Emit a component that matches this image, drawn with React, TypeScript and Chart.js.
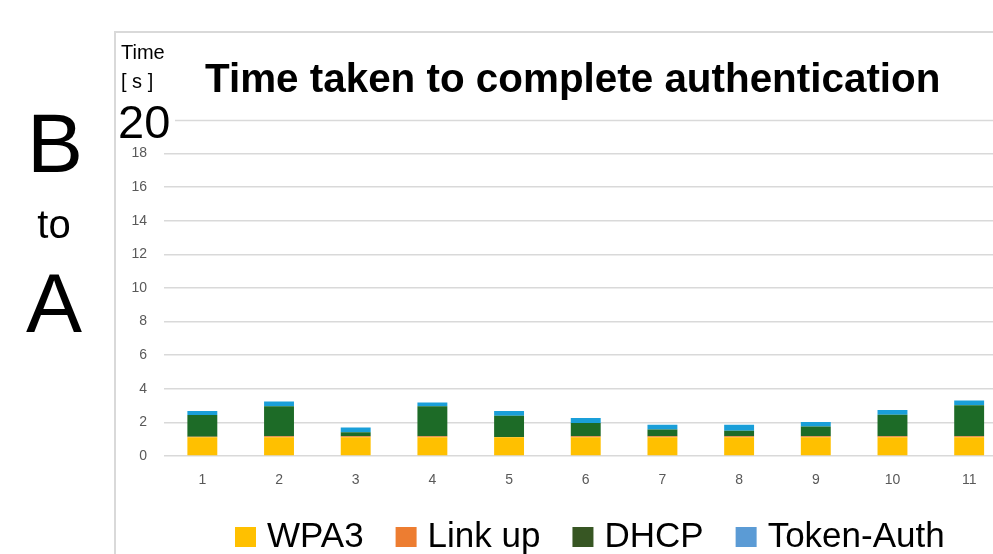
import React, { useEffect, useRef } from "react";
import { Chart, registerables } from "chart.js";

Chart.register(...registerables);

const categories = ["1", "2", "3", "4", "5", "6", "7", "8", "9", "10", "11"];
const wpa3 = [1.12, 1.12, 1.12, 1.12, 1.11, 1.12, 1.12, 1.12, 1.12, 1.12, 1.12];
const linkUp = [0.02, 0.05, 0.05, 0.05, 0.02, 0.05, 0.05, 0.05, 0.05, 0.05, 0.05];
const dhcp = [1.3, 1.79, 0.24, 1.79, 1.27, 0.79, 0.4, 0.34, 0.58, 1.29, 1.85];
const tokenAuth = [0.24, 0.29, 0.28, 0.23, 0.28, 0.3, 0.29, 0.35, 0.27, 0.28, 0.29];
const seriesNames = ["WPA3", "Link up", "DHCP", "Token-Auth"];
const barColors = ["#FFC000", "#ED7D31", "#1D6B27", "#1A9FD9"];
const legendColors = ["#FFC000", "#ED7D31", "#375623", "#5B9BD5"];
const yTicksMax = 20;
const titleText = "Time taken to complete authentication";

const overlayPlugin = {
  id: "overlay",
  afterDraw(chart: any) {
    const ctx = chart.ctx;
    const area = chart.chartArea;
    const y = chart.scales.y;
    ctx.save();
    // frame
    ctx.strokeStyle = "#d9d9d9";
    ctx.lineWidth = 2;
    ctx.beginPath();
    ctx.moveTo(115, 560);
    ctx.lineTo(115, 32);
    ctx.lineTo(1010, 32);
    ctx.stroke();
    // 20 gridline
    ctx.lineWidth = 1.5;
    const y20 = Math.round(y.getPixelForValue(yTicksMax)) + 0.5;
    ctx.beginPath();
    ctx.moveTo(175, y20);
    ctx.lineTo(area.right, y20);
    ctx.stroke();
    // B to A
    ctx.fillStyle = "#000";
    ctx.textAlign = "center";
    ctx.textBaseline = "alphabetic";
    ctx.font = "84px 'Liberation Sans', Arial, sans-serif";
    ctx.fillText("B", 55, 172);
    ctx.fillText("A", 54, 332);
    ctx.font = "40px 'Liberation Sans', Arial, sans-serif";
    ctx.fillText("to", 54, 238);
    // axis unit label
    ctx.textAlign = "left";
    ctx.font = "20px 'Liberation Sans', Arial, sans-serif";
    ctx.fillText("Time", 121, 59);
    ctx.fillText("[ s ]", 121, 88);
    ctx.font = "47px 'Liberation Sans', Arial, sans-serif";
    ctx.fillText(String(yTicksMax), 118, 138);
    // title
    ctx.font = "bold 40.4px 'Liberation Sans', Arial, sans-serif";
    ctx.fillText(titleText, 205, 92);
    // legend
    ctx.font = "35px 'Liberation Sans', Arial, sans-serif";
    let x = 235;
    chart.data.datasets.forEach((ds: any, i: number) => {
      ctx.fillStyle = legendColors[i];
      ctx.fillRect(x, 527, 21, 20);
      x += 21 + 11;
      ctx.fillStyle = "#000";
      ctx.fillText(ds.label, x, 547);
      x += ctx.measureText(ds.label).width + 32;
    });
    ctx.restore();
  },
};

export default function App() {
  const ref = useRef<HTMLCanvasElement>(null);
  useEffect(() => {
    if (!ref.current) return;
    const data = [wpa3, linkUp, dhcp, tokenAuth];
    const chart = new Chart(ref.current, {
      type: "bar",
      data: {
        labels: categories,
        datasets: data.map((d, i) => ({
          label: seriesNames[i],
          data: d,
          backgroundColor: barColors[i],
          borderWidth: 0,
          categoryPercentage: 1,
          barPercentage: 0.39,
        })),
      },
      options: {
        responsive: false,
        animation: false,
        devicePixelRatio: 1,
        layout: { padding: { top: 120, right: 2.5, left: 0, bottom: 0 } },
        plugins: { legend: { display: false }, title: { display: false }, tooltip: { enabled: false } },
        scales: {
          x: {
            stacked: true,
            grid: { display: false, drawTicks: false },
            border: { display: false },
            ticks: { color: "#595959", font: { size: 14, family: "'Liberation Sans', Arial, sans-serif" }, padding: 16 },
            afterFit: (s: any) => { s.height = 98; },
          },
          y: {
            stacked: true,
            min: 0,
            max: yTicksMax,
            ticks: {
              stepSize: 2,
              color: "#595959",
              padding: 17,
              font: { size: 14, family: "'Liberation Sans', Arial, sans-serif" },
              callback: (v: any) => (v === yTicksMax ? "" : String(v)),
            },
            grid: {
              drawTicks: false,
              lineWidth: 1.5,
              color: (c: any) => (c.tick && c.tick.value === yTicksMax ? "rgba(0,0,0,0)" : "#d9d9d9"),
            },
            border: { display: false },
            afterFit: (s: any) => { s.width = 164; },
          },
        },
      },
      plugins: [overlayPlugin],
    });
    return () => chart.destroy();
  }, []);
  return (
    <div style={{ position: "fixed", left: 0, top: 0, width: 993, height: 554, overflow: "hidden", background: "#fff" }}>
      <canvas ref={ref} width={1010} height={554} style={{ width: 1010, height: 554, display: "block" }} />
    </div>
  );
}
